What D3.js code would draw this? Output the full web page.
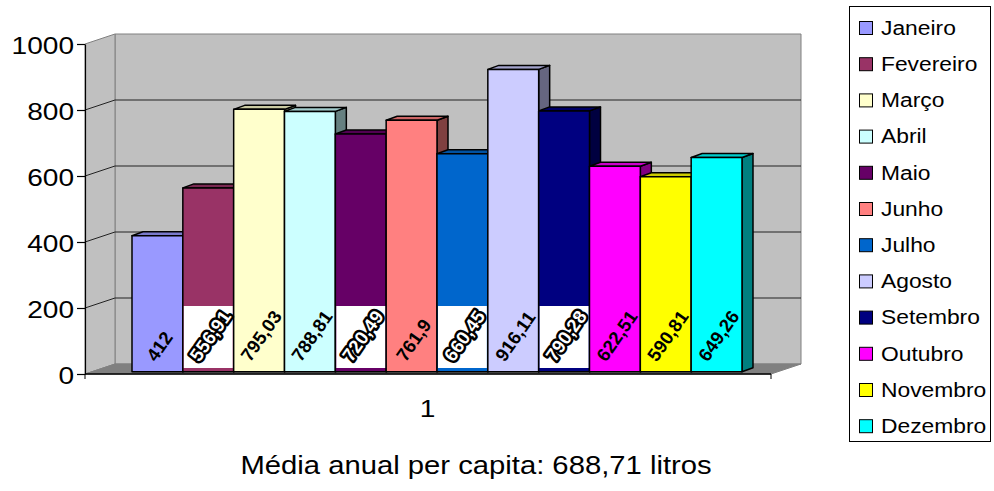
<!DOCTYPE html>
<html>
<head>
<meta charset="utf-8">
<script src="https://cdn.jsdelivr.net/npm/d3@7"></script>
<style>
  html, body { margin: 0; padding: 0; background: #fff; }
  svg { display: block; }
  text { font-family: "Liberation Sans", Arial, sans-serif; }
</style>
</head>
<body>
<script>
// Monthly per-capita consumption (litres)
const categories = ["1"];
const months = ["Janeiro", "Fevereiro", "Março", "Abril", "Maio", "Junho",
                "Julho", "Agosto", "Setembro", "Outubro", "Novembro", "Dezembro"];
const values = [412, 556.91, 795.03, 788.81, 720.49, 761.9,
                660.45, 916.11, 790.28, 622.51, 590.81, 649.26];
const colors = ["#9999FF", "#993366", "#FFFFCC", "#CCFFFF", "#660066", "#FF8080",
                "#0066CC", "#CCCCFF", "#000080", "#FF00FF", "#FFFF00", "#00FFFF"];
// labels drawn on a white plate with outlined glyphs
const boxedLabels = ["Fevereiro", "Maio", "Julho", "Setembro"];
const yTicks = [0, 200, 400, 600, 800, 1000];
const footnote = "Média anual per capita: 688,71 litros";

const W = 994, H = 491;
const SX = 1.17;              // horizontal text stretch
const FONT = '"Liberation Sans", Arial, sans-serif';

const svg = d3.select("body").append("svg").attr("width", W).attr("height", H);

// front plane scales
const y = d3.scaleLinear().domain([0, 1000]).range([374, 44]);
const xCat = d3.scaleBand().domain(categories).range([87.5, 773.5]).paddingOuter(0.0623).paddingInner(0);
const xMonth = d3.scaleBand().domain(months)
  .range([xCat("1"), xCat("1") + xCat.bandwidth()]).padding(0);

// oblique offsets
const wall = { dx: 30, dy: -10 };     // full floor depth
const barOff = { dx: 6.5, dy: -2.3 }; // front face of bars
const barDepth = { dx: 11, dy: -4 };  // bar thickness

const xL = 85, xR = 771;
const yTop = y(1000), yBase = y(0);

function shade(c, k) {
  const r = d3.rgb(c);
  return d3.rgb(r.r * k, r.g * k, r.b * k).formatHex();
}
function pts(a) { return a.map(p => p.join(",")).join(" "); }

// ---- walls and floor ----
const walls = svg.append("g");
walls.append("polygon")
  .attr("points", pts([[xL + wall.dx, yTop + wall.dy], [xR + wall.dx, yTop + wall.dy],
                       [xR + wall.dx, yBase + wall.dy], [xL + wall.dx, yBase + wall.dy]]))
  .attr("fill", "#c0c0c0").attr("stroke", "#808080").attr("stroke-width", 1);
walls.append("polygon")
  .attr("points", pts([[xL, yTop], [xL + wall.dx, yTop + wall.dy],
                       [xL + wall.dx, yBase + wall.dy], [xL, yBase]]))
  .attr("fill", "#c0c0c0").attr("stroke", "#808080").attr("stroke-width", 1);
walls.append("polygon")
  .attr("points", pts([[xL, yBase], [xL + wall.dx, yBase + wall.dy],
                       [xR + wall.dx, yBase + wall.dy], [xR, yBase]]))
  .attr("fill", "#808080").attr("stroke", "#808080").attr("stroke-width", 1);

// gridlines on side and back wall
const grid = walls.selectAll(".grid").data(yTicks.filter(t => t > 0 && t < 1000)).join("g");
grid.append("line")
  .attr("x1", xL).attr("y1", d => y(d))
  .attr("x2", xL + wall.dx).attr("y2", d => y(d) + wall.dy)
  .attr("stroke", "#222").attr("stroke-width", 1);
grid.append("line")
  .attr("x1", xL + wall.dx).attr("y1", d => y(d) + wall.dy)
  .attr("x2", xR + wall.dx).attr("y2", d => y(d) + wall.dy)
  .attr("stroke", "#222").attr("stroke-width", 1);

// ---- value axis ----
const yAxis = svg.append("g").attr("transform", `translate(${xL},0)`)
  .call(d3.axisLeft(y).tickValues(yTicks).tickSize(8).tickSizeOuter(0).tickFormat(d3.format("d")));
yAxis.select(".domain").attr("stroke", "#000").attr("stroke-width", 1.2);
yAxis.selectAll(".tick line").attr("stroke", "#000").attr("stroke-width", 1.2);
yAxis.selectAll(".tick text")
  .attr("x", null).attr("dy", null)
  .attr("font-family", FONT).attr("font-size", 24).attr("fill", "#000")
  .attr("text-anchor", "end").attr("dominant-baseline", "central")
  .attr("transform", `translate(-11,1) scale(${SX},1)`);

// ---- category axis ----
const xAxisG = svg.append("g").attr("transform", `translate(0,${yBase})`);
xAxisG.append("line").attr("x1", xL).attr("x2", xR).attr("y1", 0).attr("y2", 0)
  .attr("stroke", "#000").attr("stroke-width", 1.5);
xAxisG.selectAll(".ctick").data([xL, xR]).join("line")
  .attr("x1", d => d).attr("x2", d => d).attr("y1", 0).attr("y2", 5)
  .attr("stroke", "#000").attr("stroke-width", 1);
xAxisG.selectAll(".clabel").data(categories).join("text")
  .attr("transform", d => `translate(${xCat(d) + xCat.bandwidth() / 2 - 3},43) scale(${SX},1)`)
  .attr("text-anchor", "middle").attr("font-size", 24).attr("fill", "#000")
  .text(d => d);

// ---- 3D bars ----
const bars = svg.append("g").attr("stroke", "#000").attr("stroke-width", 1.5)
  .attr("stroke-linejoin", "round");
months.forEach((m, i) => {
  const x0 = xMonth(m) + barOff.dx, x1 = x0 + xMonth.bandwidth();
  const yt = y(values[i]) + barOff.dy, yb = yBase + barOff.dy;
  const g = bars.append("g");
  g.append("polygon")
    .attr("points", pts([[x1, yt], [x1 + barDepth.dx, yt + barDepth.dy],
                         [x1 + barDepth.dx, yb + barDepth.dy], [x1, yb]]))
    .attr("fill", shade(colors[i], 0.5));
  g.append("polygon")
    .attr("points", pts([[x0, yt], [x0 + barDepth.dx, yt + barDepth.dy],
                         [x1 + barDepth.dx, yt + barDepth.dy], [x1, yt]]))
    .attr("fill", shade(colors[i], 0.8));
  g.append("rect")
    .attr("x", x0).attr("y", yt).attr("width", x1 - x0).attr("height", yb - yt)
    .attr("fill", colors[i]);
});

// ---- data labels ----
const labels = svg.append("g");
months.forEach((m, i) => {
  const x0 = xMonth(m) + barOff.dx, x1 = x0 + xMonth.bandwidth();
  const boxed = boxedLabels.includes(m);
  if (boxed) {
    labels.append("rect")
      .attr("x", x0 + 1).attr("y", 306).attr("width", x1 - x0 - 2).attr("height", 62)
      .attr("fill", "#fff");
  }
  const g = labels.append("g");
  const t = g.append("text")
    .attr("transform", "rotate(-55)")
    .attr("font-family", FONT).attr("font-weight", "bold").attr("font-size", 18.5)
    .text(String(values[i]).replace(".", ","));
  if (boxed) {
    t.attr("fill", "#fff").attr("stroke", "#000").attr("stroke-width", 5)
      .attr("stroke-linejoin", "round").style("paint-order", "stroke");
  } else {
    t.attr("fill", "#000");
  }
  const bb = g.node().getBoundingClientRect();
  const cx = (x0 + x1) / 2 + 2;
  g.attr("transform", `translate(${cx - (bb.left + bb.right) / 2},${365 - bb.bottom})`);
});

// ---- legend ----
const legend = svg.append("g");
legend.append("rect").attr("x", 849.5).attr("y", 6.5).attr("width", 141).attr("height", 435)
  .attr("fill", "#fff").attr("stroke", "#000").attr("stroke-width", 1);
const items = legend.selectAll(".item").data(months).join("g")
  .attr("transform", (d, i) => `translate(0,${28 + i * 36.2})`);
items.append("rect").attr("x", 859.5).attr("y", -6.5).attr("width", 13).attr("height", 13)
  .attr("fill", (d, i) => colors[i]).attr("stroke", "#000").attr("stroke-width", 1);
items.append("text")
  .attr("transform", `translate(881,0) scale(${SX},1)`)
  .attr("dominant-baseline", "central").attr("font-size", 19.5).attr("fill", "#000")
  .text(d => d);

// ---- footnote ----
svg.append("text")
  .attr("transform", `translate(476,474) scale(${SX},1)`)
  .attr("text-anchor", "middle").attr("font-size", 25).attr("fill", "#000")
  .text(footnote);
</script>
</body>
</html>
